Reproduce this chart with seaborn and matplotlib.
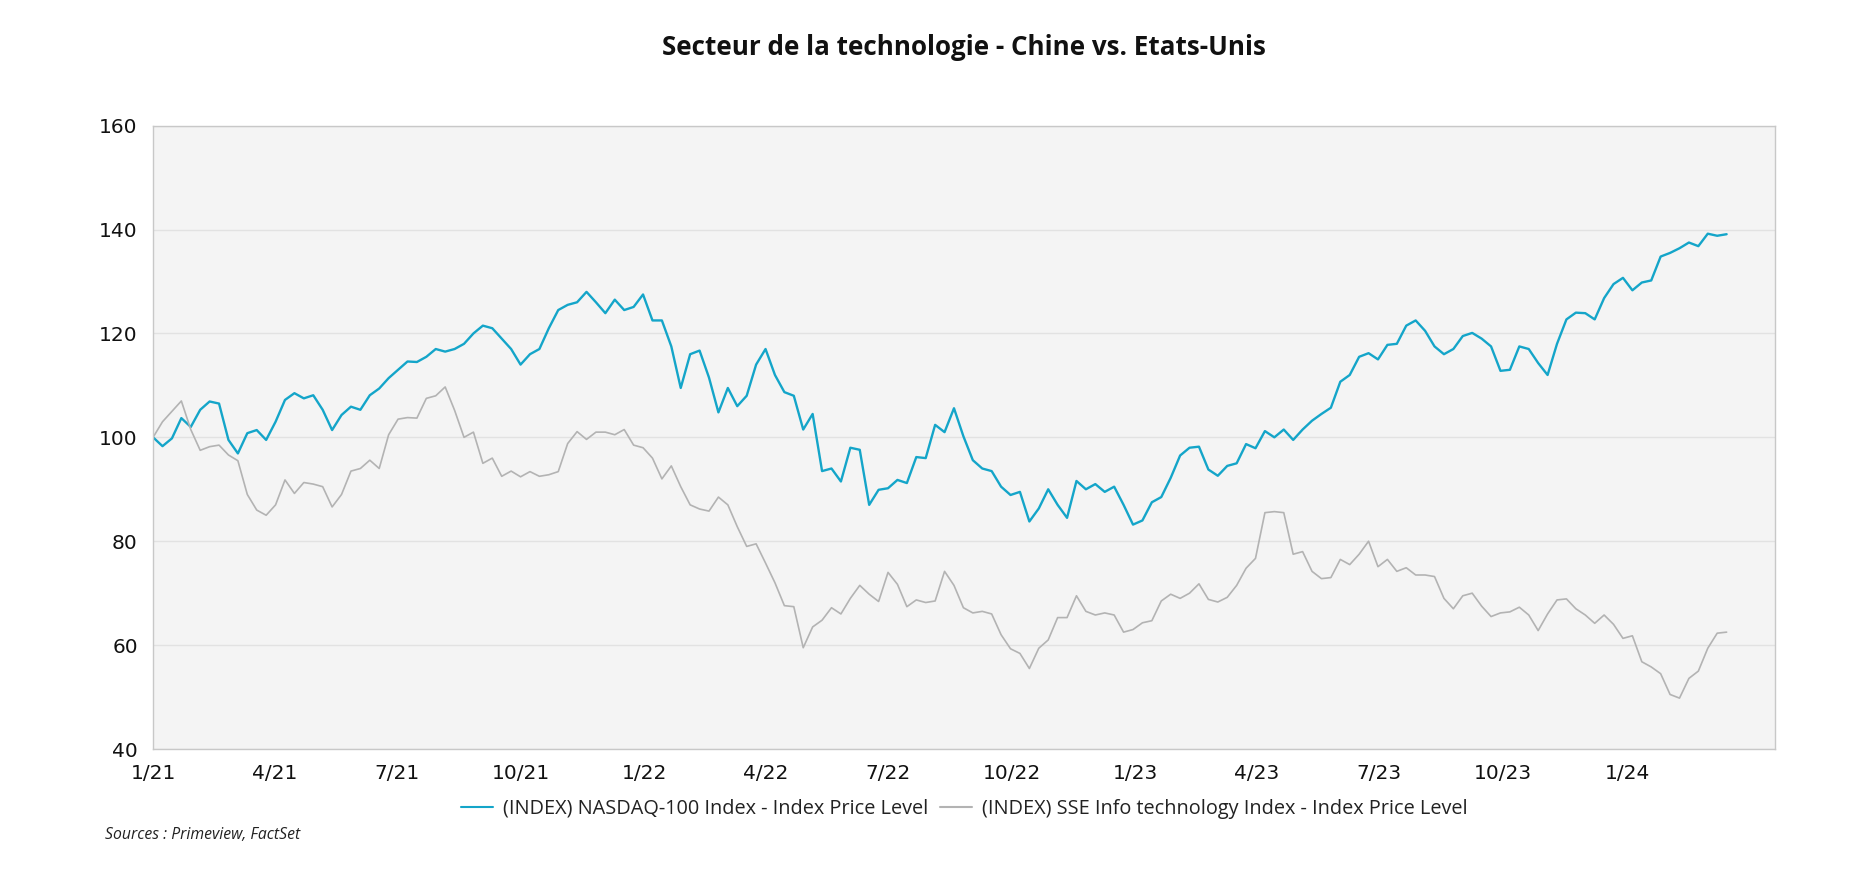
import pandas as pd
import matplotlib.pyplot as plt
import matplotlib.dates as mdates
import seaborn as sns

# Valeurs hebdomadaires (base 100 au 1/1/2021)
nasdaq = [
    100, 98.3, 99.8, 103.7, 102, 105.3, 106.9, 106.5, 99.5, 96.9,
    100.8, 101.4, 99.5, 103, 107.2, 108.5, 107.5, 108.1, 105.3, 101.4,
    104.3, 105.9, 105.3, 108.1, 109.4, 111.4, 113, 114.6, 114.5, 115.5,
    117, 116.5, 117, 118, 120, 121.5, 121, 119, 117, 114,
    116, 117, 121, 124.5, 125.5, 126, 128, 126, 123.9, 126.5,
    124.5, 125.1, 127.5, 122.5, 122.5, 117.5, 109.5, 116, 116.7, 111.5,
    104.8, 109.5, 106, 108, 114, 117, 112, 108.7, 108, 101.5,
    104.5, 93.5, 94, 91.5, 98, 97.6, 87, 89.9, 90.2, 91.8,
    91.2, 96.2, 96, 102.4, 101, 105.6, 100.2, 95.6, 94, 93.5,
    90.5, 88.9, 89.5, 83.8, 86.3, 90, 87, 84.5, 91.6, 90,
    91, 89.5, 90.5, 87, 83.2, 84, 87.5, 88.5, 92.2, 96.5,
    98, 98.2, 93.8, 92.6, 94.5, 95, 98.7, 97.9, 101.2, 100,
    101.5, 99.5, 101.5, 103.2, 104.5, 105.7, 110.7, 112, 115.5, 116.2,
    115, 117.8, 118, 121.5, 122.5, 120.5, 117.5, 116, 117, 119.5,
    120.1, 119, 117.5, 112.8, 113, 117.5, 117, 114.3, 112, 118,
    122.7, 124, 123.9, 122.7, 126.8, 129.5, 130.7, 128.3, 129.8, 130.2,
    134.8, 135.5, 136.4, 137.5, 136.8, 139.2, 138.8, 139.1,
]

sse_it = [
    100, 103, 105, 107, 101.5, 97.5, 98.2, 98.5, 96.6, 95.5,
    89, 86, 85, 87, 91.8, 89.2, 91.3, 91, 90.5, 86.6,
    89, 93.5, 94, 95.6, 94, 100.5, 103.5, 103.8, 103.7, 107.5,
    108, 109.7, 105.2, 100, 101, 95, 96, 92.5, 93.5, 92.4,
    93.4, 92.5, 92.8, 93.4, 98.8, 101.1, 99.6, 101, 101, 100.5,
    101.5, 98.5, 98, 96, 92, 94.5, 90.5, 87, 86.2, 85.8,
    88.5, 87, 82.8, 79, 79.5, 75.8, 72, 67.6, 67.4, 59.5,
    63.5, 64.8, 67.2, 66, 69, 71.5, 69.8, 68.4, 74, 71.7,
    67.4, 68.7, 68.2, 68.5, 74.2, 71.5, 67.2, 66.2, 66.5, 66,
    62, 59.3, 58.4, 55.5, 59.4, 61, 65.3, 65.3, 69.5, 66.5,
    65.8, 66.2, 65.8, 62.5, 63, 64.3, 64.7, 68.5, 69.8, 69,
    70, 71.8, 68.8, 68.3, 69.2, 71.5, 74.8, 76.7, 85.5, 85.7,
    85.5, 77.5, 78, 74.2, 72.8, 73, 76.5, 75.5, 77.5, 80,
    75.1, 76.5, 74.2, 74.9, 73.5, 73.5, 73.2, 69, 67, 69.5,
    70, 67.5, 65.5, 66.2, 66.4, 67.3, 65.8, 62.8, 66, 68.7,
    68.9, 67, 65.8, 64.2, 65.8, 64, 61.3, 61.8, 56.8, 55.8,
    54.5, 50.5, 49.8, 53.6, 55, 59.4, 62.3, 62.5,
]

dates = pd.date_range("2021-01-01", periods=len(nasdaq), freq="7D")
labels = [
    "(INDEX) NASDAQ-100 Index - Index Price Level",
    "(INDEX) SSE Info technology Index - Index Price Level",
]
colors = ["#14a5c9", "#b3b3b3"]
tick_dates = pd.date_range("2021-01-01", "2024-01-01", freq="QS")

df = pd.concat([
    pd.DataFrame({"date": dates, "valeur": nasdaq, "indice": labels[0]}),
    pd.DataFrame({"date": dates, "valeur": sse_it, "indice": labels[1]}),
])

sns.set_theme(style="white")
plt.rcParams["font.family"] = ["Open Sans", "DejaVu Sans"]

fig = plt.figure(figsize=(18.76, 8.86), dpi=100)
ax = fig.add_axes([0.0816, 0.1546, 0.8646, 0.7036])
ax.set_facecolor("#f4f4f4")

sns.lineplot(data=df, x="date", y="valeur", hue="indice", hue_order=labels,
             palette=colors, linewidth=1.5, ax=ax)
for line, lw in zip(ax.lines, [1.7, 1.2]):
    line.set_linewidth(lw)

# Axes
ax.set_xlim(pd.Timestamp("2021-01-01"), pd.Timestamp("2024-04-20"))
ax.set_ylim(40, 160)
ax.set_yticks(range(40, 161, 20))
ax.set_xticks(tick_dates)
ax.set_xticklabels([f"{d.month}/{d:%y}" for d in tick_dates])
ax.set_xlabel("")
ax.set_ylabel("")
ax.grid(axis="y", color="#e2e2e2", linewidth=1)
for s in ax.spines.values():
    s.set_color("#c8c8c8")
    s.set_linewidth(1)
ax.tick_params(axis="both", which="major", length=8, width=1, color="#555555",
               labelsize=14.5, labelcolor="#111111", pad=3,
               labelfontfamily="DejaVu Sans")

# Titre, légende, source
fig.text(0.514, 0.946, "Secteur de la technologie - Chine vs. Etats-Unis",
         ha="center", va="center", fontsize=18.7, fontweight="bold", color="#111111")

handles, labs = ax.get_legend_handles_labels()
ax.get_legend().remove()
fig.legend(handles, labs, loc="center", bbox_to_anchor=(0.514, 0.087), ncol=2,
           frameon=False, fontsize=14.3, handlelength=1.6, handletextpad=0.5,
           columnspacing=0.6, labelcolor="#222222")

fig.text(0.056, 0.058, "Sources : Primeview, FactSet", ha="left", va="center",
         fontsize=11.3, fontstyle="italic", color="#222222")

fig.savefig("out.png", dpi=100)
